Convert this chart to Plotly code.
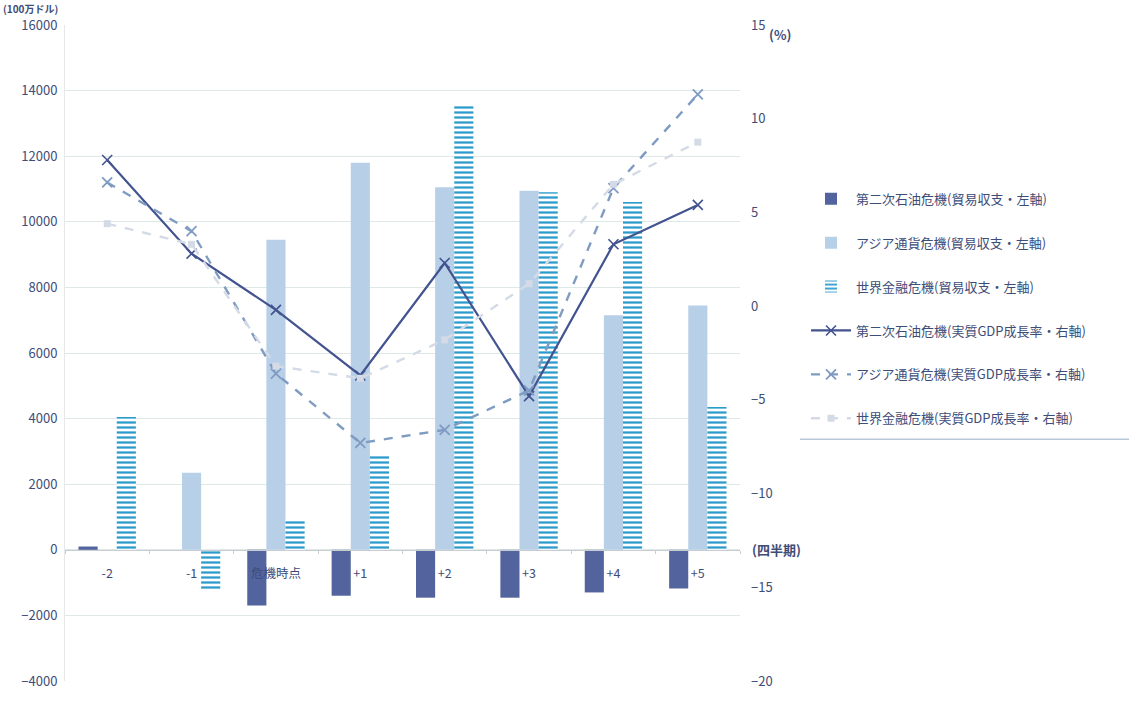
import plotly.graph_objects as go

categories = ["-2", "-1", "危機時点", "+1", "+2", "+3", "+4", "+5"]

# Trade balance (left axis, million USD)
oil2_trade = [100, 0, -1700, -1400, -1460, -1460, -1300, -1180]
asia_trade = [0, 2350, 9450, 11800, 11050, 10950, 7150, 7450]
world_trade = [4050, -1250, 930, 2900, 13550, 10900, 10600, 4350]

# Real GDP growth (right axis, %)
oil2_gdp = [7.8, 2.8, -0.2, -3.7, 2.3, -4.8, 3.3, 5.4]
asia_gdp = [6.6, 4.0, -3.6, -7.3, -6.6, -4.5, 6.3, 11.3]
world_gdp = [4.4, 3.3, -3.2, -3.85, -1.8, 1.2, 6.5, 8.75]

names = [
    "第二次石油危機(貿易収支・左軸)",
    "アジア通貨危機(貿易収支・左軸)",
    "世界金融危機(貿易収支・左軸)",
    "第二次石油危機(実質GDP成長率・右軸)",
    "アジア通貨危機(実質GDP成長率・右軸)",
    "世界金融危機(実質GDP成長率・右軸)",
]

FONT = "Noto Sans CJK JP"
TXT = "#3e4d78"

fig = go.Figure()
fig.add_trace(go.Bar(x=categories, y=oil2_trade, name=names[0], legendgroup="a",
                     marker=dict(color="#52639e", line=dict(width=0))))
fig.add_trace(go.Bar(x=categories, y=asia_trade, name=names[1], legendgroup="b",
                     marker=dict(color="#b7cfe7", line=dict(width=0))))
fig.add_trace(go.Bar(x=categories, y=world_trade, name=names[2], legendgroup="c",
                     marker=dict(color="white", line=dict(width=0),
                                 pattern=dict(shape="-", fgcolor="#2a9bcb", bgcolor="white",
                                              size=5, solidity=0.45, fillmode="replace"))))
fig.add_trace(go.Scatter(x=categories, y=oil2_gdp, name=names[3], yaxis="y2", legendgroup="d",
                         mode="lines+markers",
                         line=dict(color="#42538f", width=2.2),
                         marker=dict(symbol="x-thin", size=10, line=dict(color="#42538f", width=1.6))))
fig.add_trace(go.Scatter(x=categories, y=asia_gdp, name=names[4], yaxis="y2", legendgroup="e",
                         mode="lines+markers",
                         line=dict(color="#7f9bc2", width=2.4, dash="dash"),
                         marker=dict(symbol="x-thin", size=10, line=dict(color="#7f9bc2", width=1.8))))
fig.add_trace(go.Scatter(x=categories, y=world_gdp, name=names[5], yaxis="y2", legendgroup="f",
                         mode="lines+markers",
                         line=dict(color="#d4dbe6", width=2.4, dash="dash"),
                         marker=dict(symbol="square", size=7, color="#d4dbe6")))

W, H = 1129, 702
L, R, T, B = 65, 389, 25, 12
pw, ph = W - L - R, H - T - B

def px(xp):
    return (xp - L) / pw

def py(yp):
    return 1 - (yp - T) / ph

fig.update_layout(
    width=W, height=H,
    margin=dict(l=L, r=R, t=T, b=B),
    paper_bgcolor="white", plot_bgcolor="white",
    font=dict(family=FONT, color=TXT, size=13),
    barmode="group", bargap=0.32, bargroupgap=0.0,
    xaxis=dict(type="category", anchor="free", position=0.2,
               showgrid=False, showline=True, linecolor="#c9cdd2", linewidth=1,
               ticks="outside", ticklen=3, tickcolor="#c9cdd2", tickson="boundaries",
               tickfont=dict(size=12.5, color=TXT), zeroline=False, ticklabelstandoff=12),
    yaxis=dict(range=[-4000, 16000], dtick=2000, tickformat="d", showgrid=True,
               gridcolor="#dde9e6", gridwidth=1, zeroline=False, showline=True,
               linecolor="#e6e9ec", tickfont=dict(size=13, color=TXT), ticks="",
               ticklabelstandoff=4),
    yaxis2=dict(range=[-20, 15], dtick=5, overlaying="y", side="right",
                showgrid=False, zeroline=False, showline=False,
                tickfont=dict(size=13, color=TXT), ticks="", ticklabelstandoff=10),
    legend=dict(x=px(806), y=py(186), xanchor="left", yanchor="top",
                font=dict(size=13, color=TXT, family=FONT),
                tracegroupgap=24, itemwidth=40, bgcolor="rgba(0,0,0,0)"),
    showlegend=True,
)

fig.add_annotation(text="<b>(100万ドル)</b>", xref="paper", yref="paper",
                   x=px(2), y=py(0), xanchor="left", yanchor="top", borderpad=0,
                   showarrow=False, font=dict(size=10, color=TXT))
fig.add_annotation(text="<b>(%)</b>", xref="paper", yref="paper",
                   x=px(767), y=py(35), xanchor="left", yanchor="middle",
                   showarrow=False, font=dict(size=13, color=TXT))
fig.add_annotation(text="<b>(四半期)</b>", xref="paper", yref="paper",
                   x=px(750), y=0.2, xanchor="left", yanchor="middle",
                   showarrow=False, font=dict(size=13, color=TXT))
fig.add_shape(type="line", xref="paper", yref="paper",
              x0=px(800), x1=px(1129), y0=py(445), y1=py(445),
              line=dict(color="#b9c8d6", width=1.5))

fig.write_html("out.html")
